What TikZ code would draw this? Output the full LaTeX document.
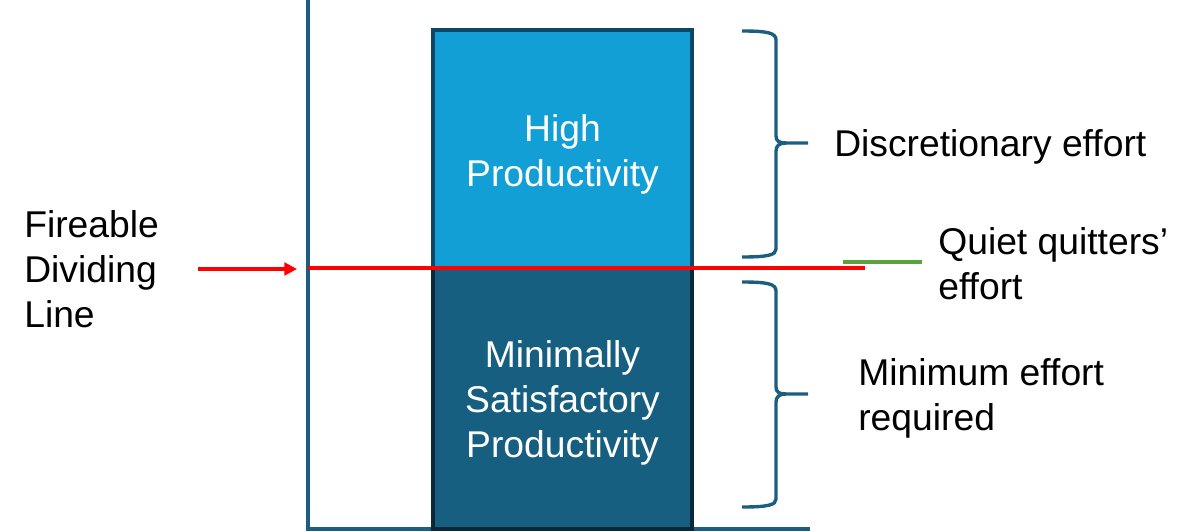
\documentclass[tikz,border=0pt]{standalone}
\usepackage{fontspec}
\setmainfont{Liberation Sans}
\usetikzlibrary{arrows.meta}
\definecolor{axisblue}{HTML}{1B5E80}
\definecolor{hifill}{HTML}{129FD6}
\definecolor{hiedge}{HTML}{0E4766}
\definecolor{lofill}{HTML}{165F80}
\definecolor{loedge}{HTML}{0B2838}
\definecolor{quietgreen}{HTML}{5BA23E}
\tikzset{
  axisline/.style={axisblue,line width=2.2pt},
  bracepath/.style={axisblue,line width=2.4pt},
  prodbox/.style={line width=2.2pt,inner sep=0pt,outer sep=0pt,minimum width=6.475cm,text=white,align=center},
  label/.style={anchor=west,align=left,inner sep=0pt},
  redline/.style={red,line width=2.2pt}
}
\begin{document}
\begin{tikzpicture}[x=0.025cm,y=-0.025cm,font=\fontsize{26.5}{31.9}\selectfont]
	\useasboundingbox (0,0) rectangle (1198,532);
	% axes
	\coordinate (top) at (308,0);
	\coordinate (origin) at (308,529);
	\coordinate (xend) at (810,529);
	\draw[axisline] (top) -- (origin) -- (xend);
	% productivity boxes
	\node[prodbox,fill=hifill,draw=hiedge,minimum height=5.95cm] (high) at (562.5,149) {};
	\node[prodbox,fill=lofill,draw=loedge,minimum height=6.525cm] (low) at (562.5,398.5) {};
	\node[text=white,align=center,inner sep=0pt] (hightext) at (562.5,154) {High\\Productivity};
	\node[text=white,align=center,inner sep=0pt] (lowtext) at (562.5,403) {Minimally\\Satisfactory\\Productivity};
	% dividing line
	\coordinate (divstart) at (308,268);
	\coordinate (divend) at (865,268);
	\draw[redline] (divstart) -- (divend);
	\coordinate (arrstart) at (198,269);
	\coordinate (arrend) at (297,269);
	\draw[redline,-{Triangle[length=9pt,width=9pt]}] (arrstart) -- (arrend);
	\coordinate (qstart) at (843,262);
	\coordinate (qend) at (922,262);
	\draw[quietgreen,line width=2.2pt] (qstart) -- (qend);
	% braces
	\draw[bracepath] (742,31) .. controls (768,31) and (776,33) .. (776,40) -- (776,136) .. controls (776,141) and (779,143) .. (786,143) -- (808,143);
	\draw[bracepath] (786,143) .. controls (779,143) and (776,146) .. (776,151) -- (776,249) .. controls (776,255) and (768,257) .. (742,257);
	\draw[bracepath] (742,282) .. controls (768,282) and (776,284) .. (776,291) -- (776,387) .. controls (776,392) and (779,394) .. (786,394) -- (808,394);
	\draw[bracepath] (786,394) .. controls (779,394) and (776,397) .. (776,402) -- (776,499) .. controls (776,505) and (768,507) .. (742,507);
	% labels
	\node[label] (fire) at (24,269) {Fireable\\Dividing\\Line};
	\node[label] (disc) at (834,147) {Discretionary effort};
	\node[label] (quiet) at (938,263.5) {Quiet quitters'\\effort};
	\node[label] (minim) at (858,398) {Minimum effort\\required};
\end{tikzpicture}
\end{document}
